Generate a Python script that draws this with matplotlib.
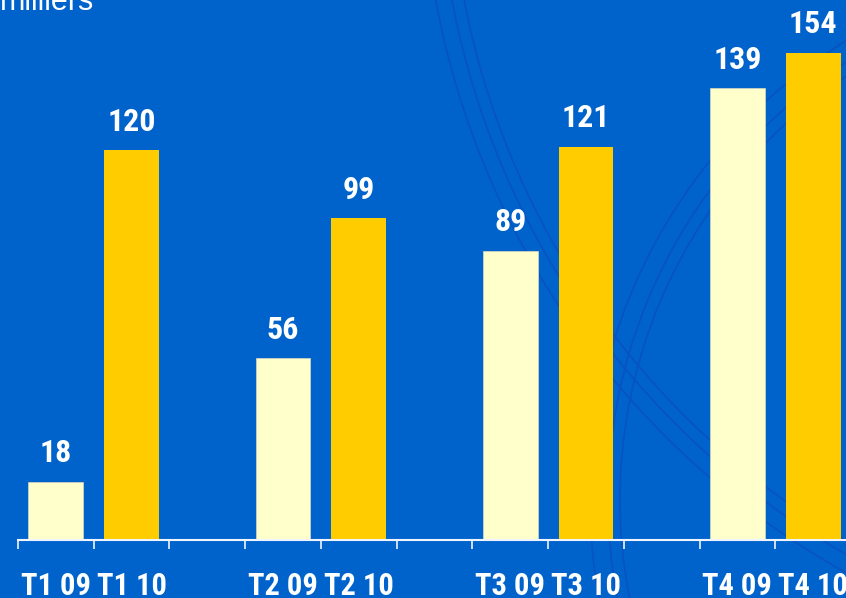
import numpy as np
import matplotlib.pyplot as plt
from matplotlib.patches import Arc

# Data (milliers)
quarters = ["T1", "T2", "T3", "T4"]
years = ["09", "10"]
values_09 = [18, 56, 89, 139]
values_10 = [120, 99, 121, 154]

bg_blue = "#0063CC"
light_yellow = "#FFFFCC"
gold = "#FFCC00"
font_narrow = ["Roboto Condensed", "DejaVu Sans"]
y_max = 150  # the plot area stops here, the tallest bar is clipped

fig = plt.figure(figsize=(8.46, 5.98), dpi=100)
fig.patch.set_facecolor(bg_blue)

# faint decorative arcs in the background (pixel coordinates)
bg = fig.add_axes([0, 0, 1, 1], zorder=0)
bg.set_xlim(0, 846)
bg.set_ylim(598, 0)
bg.axis("off")
for r in [800, 812, 828]:
    bg.add_patch(Arc((1250, -150), 2 * r, 2 * r, color="#0853C2", lw=1.3))
for r in [510, 522, 540]:
    bg.add_patch(Arc((1130, 500), 2 * r, 2 * r, color="#0853C2", lw=1.3))

# bar axes: slot width ~75.8 px, baseline at y=540 px, 3.25 px per unit
ax = fig.add_axes([18 / 846, 58 / 598, 833 / 846, y_max * 3.25 / 598], zorder=1)
ax.set_facecolor("none")

x09 = np.arange(len(quarters)) * 3
x10 = x09 + 1
width = 0.725

ax.bar(x09, values_09, width, color=light_yellow, edgecolor="#D8D8C0", linewidth=0.5)
ax.bar(x10, values_10, width, color=gold, linewidth=0)

for xs, vals in [(x09, values_09), (x10, values_10)]:
    for x, v in zip(xs, vals):
        ax.annotate(str(v), (x, min(v, y_max)), xytext=(0, 14), textcoords="offset points",
                    ha="center", va="baseline", color="white", fontsize=23,
                    fontweight="bold", family=font_narrow, annotation_clip=False)

ax.set_xlim(-0.5, 10.5)
ax.set_ylim(0, y_max)

# labels under each bar, ticks between slots
positions = np.sort(np.concatenate([x09, x10]))
labels = []
for q in quarters:
    for y in years:
        labels.append(f"{q} {y}")
ax.set_xticks(positions, labels)
ax.set_xticks(np.arange(-0.5, 11, 1), minor=True)
ax.tick_params(axis="x", which="major", length=0, pad=22, colors="white",
               labelsize=22)
ax.tick_params(axis="x", which="minor", length=6.5, width=1.2, color="#F0F4FF",
               direction="out")
for lab in ax.get_xticklabels():
    lab.set_fontweight("bold")
    lab.set_family(font_narrow)

ax.set_yticks([])
for s in ["top", "right", "left"]:
    ax.spines[s].set_visible(False)
ax.spines["bottom"].set_color("#F0F4FF")
ax.spines["bottom"].set_linewidth(1.5)

fig.text(0.0, 1 - 10 / 598, "milliers", color="white", fontsize=22,
         ha="left", va="baseline", family=["Liberation Sans", "DejaVu Sans"])

fig.savefig("out.png", dpi=100, facecolor=fig.get_facecolor())
